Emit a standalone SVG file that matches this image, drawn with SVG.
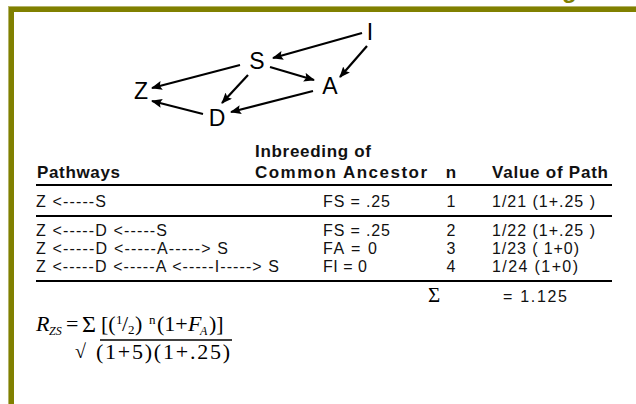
<svg xmlns="http://www.w3.org/2000/svg" width="636" height="404" viewBox="0 0 636 404">
  <defs>
    <marker id="head" viewBox="0 0 11 9" refX="10" refY="4.5" markerWidth="11" markerHeight="9" markerUnits="userSpaceOnUse" orient="auto">
      <path d="M0,0 L11,4.5 L0,9 L2,4.5 Z" fill="#000"/>
    </marker>
    <style>
      .node { font-family: "Liberation Sans", Arial, sans-serif; font-size: 23px; fill: #000; text-anchor: middle; }
      .edge { stroke: #000; stroke-width: 2.2; fill: none; marker-end: url(#head); }
      .hd { font-family: "Liberation Sans", Arial, sans-serif; font-size: 17px; font-weight: bold; fill: #111; }
      .cell { font-family: "Liberation Sans", Arial, sans-serif; font-size: 16px; fill: #111; }
      .num { text-anchor: middle; }
      .rule { stroke: #000; stroke-width: 2.2; }
      .math { font-family: "Liberation Serif", "Times New Roman", serif; fill: #000; }
    </style>
  </defs>

  <rect width="636" height="404" fill="#fff"/>

  <!-- olive frame: top and left bars -->
  <rect x="8" y="6" width="628" height="6" fill="#808000"/>
  <rect x="8" y="6" width="6" height="398" fill="#808000"/>
  <rect x="8" y="6" width="628" height="1" fill="#b4b46a"/>
  <rect x="8" y="6" width="1" height="398" fill="#b4b46a"/>
  <text x="562" y="-2" font-family="Liberation Sans, Arial, sans-serif" font-size="24" font-weight="bold" fill="#808000">g</text>

  <!-- pedigree graph -->
  <g id="connectors">
    <line class="edge" x1="362" y1="33" x2="273" y2="58"/>
    <line class="edge" x1="367" y1="46" x2="340" y2="77"/>
    <line class="edge" x1="240" y1="65" x2="152" y2="88"/>
    <line class="edge" x1="270" y1="67" x2="314" y2="80"/>
    <line class="edge" x1="248" y1="75" x2="222" y2="103"/>
    <line class="edge" x1="313" y1="91" x2="231" y2="112"/>
    <line class="edge" x1="203" y1="114" x2="152" y2="101"/>
  </g>
  <g id="node-I"><text class="node" x="370" y="40">I</text></g>
  <g id="node-S"><text class="node" x="257" y="69">S</text></g>
  <g id="node-Z"><text class="node" x="141" y="99">Z</text></g>
  <g id="node-A"><text class="node" x="330" y="94">A</text></g>
  <g id="node-D"><text class="node" x="217" y="126">D</text></g>

  <!-- path coefficient table -->
  <g id="table">
    <text class="hd" x="255" y="157" textLength="116" lengthAdjust="spacing">Inbreeding of</text>
    <text class="hd" x="37" y="178" textLength="83" lengthAdjust="spacing">Pathways</text>
    <text class="hd" x="255" y="178" textLength="172" lengthAdjust="spacing">Common Ancestor</text>
    <text class="hd num" x="451" y="178">n</text>
    <text class="hd" x="492" y="178" textLength="116" lengthAdjust="spacing">Value of Path</text>
    <line class="rule" x1="36" y1="185" x2="612" y2="185"/>

    <text class="cell" x="36" y="207" textLength="70" lengthAdjust="spacing">Z &lt;-----S</text>
    <text class="cell" x="323" y="207" textLength="67" lengthAdjust="spacing">FS = .25</text>
    <text class="cell num" x="451" y="207">1</text>
    <text class="cell" x="492" y="207" textLength="103" lengthAdjust="spacing">1/21 (1+.25 )</text>
    <line class="rule" x1="36" y1="216" x2="612" y2="216"/>

    <text class="cell" x="36" y="236" textLength="131" lengthAdjust="spacing">Z &lt;-----D &lt;-----S</text>
    <text class="cell" x="323" y="236" textLength="67" lengthAdjust="spacing">FS = .25</text>
    <text class="cell num" x="451" y="236">2</text>
    <text class="cell" x="492" y="236" textLength="103" lengthAdjust="spacing">1/22 (1+.25 )</text>

    <text class="cell" x="36" y="254" textLength="192" lengthAdjust="spacing">Z &lt;-----D &lt;-----A-----&gt; S</text>
    <text class="cell" x="323" y="254" textLength="54" lengthAdjust="spacing">FA = 0</text>
    <text class="cell num" x="451" y="254">3</text>
    <text class="cell" x="492" y="254" textLength="87" lengthAdjust="spacing">1/23 ( 1+0)</text>

    <text class="cell" x="36" y="272" textLength="243" lengthAdjust="spacing">Z &lt;-----D &lt;-----A &lt;-----I-----&gt; S</text>
    <text class="cell" x="323" y="272" textLength="44" lengthAdjust="spacing">FI = 0</text>
    <text class="cell num" x="451" y="272">4</text>
    <text class="cell" x="492" y="272" textLength="86" lengthAdjust="spacing">1/24 (1+0)</text>
    <line class="rule" x1="36" y1="281" x2="612" y2="281"/>

    <text class="math" x="428" y="302" font-size="21">Σ</text>
    <text class="cell" x="503" y="302" textLength="64" lengthAdjust="spacing">= 1.125</text>
  </g>

  <!-- relationship coefficient formula -->
  <g id="formula">
    <text class="math" x="36" y="331" font-size="22" font-style="italic">R</text>
    <text class="math" x="49" y="335" font-size="12" font-style="italic">ZS</text>
    <text class="math" x="66" y="331" font-size="22">=</text>
    <text class="math" x="82" y="332" font-size="24">Σ</text>
    <text class="math" x="101" y="331" font-size="22">[(</text>
    <text class="math" x="116" y="324" font-size="13">1</text>
    <text class="math" x="122" y="331" font-size="22">/</text>
    <text class="math" x="128" y="334" font-size="13">2</text>
    <text class="math" x="135" y="331" font-size="22">)</text>
    <text class="math" x="149" y="324" font-size="13">n</text>
    <text class="math" x="157" y="331" font-size="22">(1+</text>
    <text class="math" x="188" y="331" font-size="22" font-style="italic">F</text>
    <text class="math" x="200" y="335" font-size="12" font-style="italic">A</text>
    <text class="math" x="209" y="331" font-size="22">)]</text>
    <line x1="100" y1="340" x2="232" y2="340" stroke="#000" stroke-width="1.3"/>
    <text class="math" x="75" y="358" font-size="20">√</text>
    <text class="math" x="96" y="359" font-size="22" textLength="134" lengthAdjust="spacing">(1+5)(1+.25)</text>
  </g>
</svg>
